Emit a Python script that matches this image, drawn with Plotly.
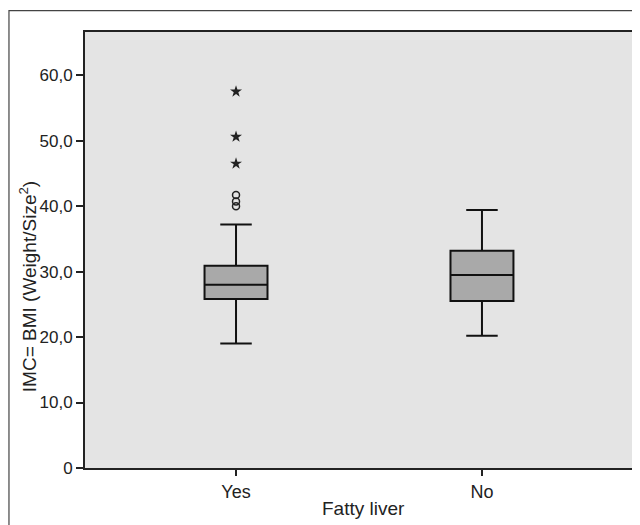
import plotly.graph_objects as go

categories = ["Yes", "No"]
q1 = [25.8, 25.5]
median = [28.0, 29.5]
q3 = [30.9, 33.2]
lower_whisker = [19.0, 20.2]
upper_whisker = [37.2, 39.4]

outlier_circle_y = [41.7, 40.7, 40.0]
outlier_star_y = [57.5, 50.6, 46.5]

ytick_vals = [0, 10, 20, 30, 40, 50, 60]
ytick_text = ["0", "10,0", "20,0", "30,0", "40,0", "50,0", "60,0"]

FONT = "Liberation Sans, Arial, sans-serif"

fig = go.Figure()
fig.add_trace(go.Box(
    x=categories, q1=q1, median=median, q3=q3,
    lowerfence=lower_whisker, upperfence=upper_whisker,
    fillcolor="#a9a9a9", line=dict(color="#111111", width=2),
    width=0.256, whiskerwidth=0.5, boxpoints=False, showlegend=False,
))
fig.add_trace(go.Scatter(
    x=["Yes"] * len(outlier_circle_y), y=outlier_circle_y, mode="markers",
    marker=dict(symbol="circle-open", size=7, color="#222222", line=dict(width=1.5)),
    showlegend=False,
))
fig.add_trace(go.Scatter(
    x=["Yes"] * len(outlier_star_y), y=outlier_star_y, mode="markers",
    marker=dict(symbol="star", size=9, color="#222222"),
    showlegend=False,
))

fig.add_shape(type="rect", xref="paper", yref="paper",
              x0=-0.139, x1=1.03, y0=-0.16, y1=1.049,
              line=dict(color="#444444", width=1.2), fillcolor="rgba(0,0,0,0)", layer="below")

fig.add_annotation(text="Fatty liver", xref="paper", yref="paper",
                   x=0.51, y=-0.094, xanchor="center", yanchor="middle",
                   showarrow=False, font=dict(size=19, family=FONT, color="#222222"))
fig.add_annotation(text="IMC= BMI (Weight/Size<sup>2</sup>)", xref="paper", yref="paper",
                   x=-0.104, y=0.415, xanchor="center", yanchor="middle", textangle=-90,
                   showarrow=False, font=dict(size=19, family=FONT, color="#222222"))

fig.update_layout(
    width=632, height=517,
    margin=dict(l=77, r=8, t=24, b=57),
    paper_bgcolor="white", plot_bgcolor="#e4e4e4",
    font=dict(family=FONT, size=17, color="#222222"),
    xaxis=dict(
        range=[-0.614, 1.61], type="category", automargin=False,
        showline=True, linecolor="#222222", linewidth=2, mirror=True,
        ticks="outside", ticklen=6, tickcolor="#222222", tickwidth=1.5,
        showgrid=False, zeroline=False, tickfont=dict(size=18),
    ),
    yaxis=dict(
        range=[0, 66.6], tickvals=ytick_vals, ticktext=ytick_text, automargin=False,
        showline=True, linecolor="#222222", linewidth=2, mirror=True,
        ticks="outside", ticklen=7, tickcolor="#222222", tickwidth=1.5,
        showgrid=False, zeroline=False, tickfont=dict(size=17),
    ),
)

fig.write_html("out.html")
